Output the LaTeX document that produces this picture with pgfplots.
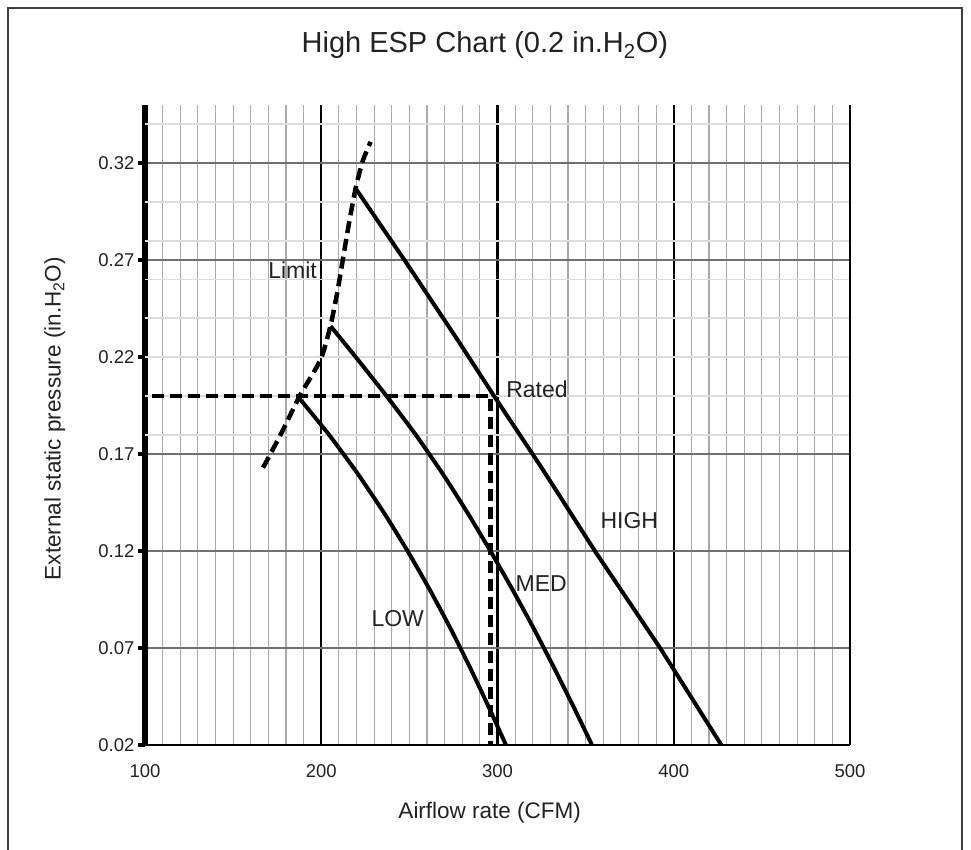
\documentclass[border=0pt]{standalone}
\usepackage{fontspec}
\setmainfont{Liberation Sans}
\usepackage{pgfplots}
\pgfplotsset{compat=1.18}
\definecolor{txt}{HTML}{222222}
\definecolor{mgrid}{HTML}{AAAAAA}
\definecolor{ygrid}{HTML}{707070}
\definecolor{lgrid}{HTML}{DCDCDC}
\begin{document}
\begin{tikzpicture}[x=1pt,y=1pt]
\useasboundingbox (-145,-105) rectangle (826,745);
\draw[black!75, line width=1.3pt] (-137,-110) -- (-137,737) -- (817,737) -- (817,-110);
\begin{axis}[
  at={(0,0)}, anchor=south west,
  scale only axis, width=705pt, height=640pt,
  xmin=100, xmax=500, ymin=0.02, ymax=0.35,
  axis x line*=bottom, axis y line*=left,
  x axis line style={-, black, line width=2pt},
  y axis line style={-, black, line width=6pt},
  xtick={100,200,300,400,500},
  xticklabels={100,200,300,400,500},
  ytick={0.02,0.07,0.12,0.17,0.22,0.27,0.32},
  yticklabels={0.02,0.07,0.12,0.17,0.22,0.27,0.32},
  minor x tick num=9,
  grid=both,
  major x grid style={black, line width=2.4pt},
  minor x grid style={mgrid, line width=1.2pt},
  major y grid style={ygrid, line width=1.8pt},
  tick align=outside,
  xtick style={draw=none},
  minor tick length=0pt,
  ytick style={black, line width=3.5pt},
  major tick length=7pt,
  tick label style={font=\fontsize{18.5}{22}\selectfont, text=txt},
  xticklabel style={yshift=-9pt},
  /pgf/number format/assume math mode=true,
  extra y ticks={0.18,0.20,0.22,0.24,0.26,0.28,0.30,0.34},
  extra y tick labels={,,,,,,,},
  extra y tick style={major tick length=0pt, ytick style={draw=none}, major y grid style={lgrid, line width=1.8pt}},
  title={High ESP Chart (0.2 in.H\textsubscript{2}O)},
  title style={at={(rel axis cs:0.482,1.084)}, anchor=center, font=\fontsize{29}{33}\selectfont, text=txt},
  xlabel={Airflow rate (CFM)},
  xlabel style={at={(rel axis cs:0.489,-0.106)}, anchor=center, font=\fontsize{22.5}{26}\selectfont, text=txt},
  ylabel={External static pressure (in.H\textsubscript{2}O)},
  ylabel style={at={(rel axis cs:-0.128,0.51)}, anchor=center, rotate=0, font=\fontsize{22.5}{26}\selectfont, text=txt},
  clip=true,
]
% Limit
\addplot[black, line width=4.5pt, dash pattern=on 12pt off 6pt, smooth, tension=0.4] coordinates {
(167.0,0.163) (177.5,0.181) (187.8,0.200) (199.6,0.2187) (205.3,0.2364) (209.3,0.2544) (212.2,0.270) (215.7,0.2888) (219.5,0.307) (223.5,0.321) (228.0,0.331)
};
% rated dashed
\addplot[black, line width=4.5pt, dash pattern=on 12pt off 6pt] coordinates {
(103.8,0.2) (296,0.2) (296,0.02)
};
% HIGH
\addplot[black, line width=4pt] coordinates {
(219.5,0.307) (248,0.269) (278,0.228) (298,0.2) (325,0.163) (356,0.119) (393,0.069) (427,0.02)
};
% MED
\addplot[black, line width=4pt, smooth, tension=0.3] coordinates {
(205.3,0.236) (219.6,0.22) (237.0,0.20) (253.6,0.18) (268.8,0.16) (282.8,0.14) (296.0,0.12) (308.6,0.10) (320.6,0.08) (332.0,0.06) (343.0,0.04) (353.6,0.02)
};
% LOW
\addplot[black, line width=4pt, smooth, tension=0.3] coordinates {
(187.8,0.1985) (204.4,0.18) (220.6,0.16) (235.4,0.14) (249.0,0.12) (261.6,0.10) (273.4,0.08) (284.4,0.06) (294.8,0.04) (304.8,0.02)
};
\draw[black, line width=3pt] (axis cs:500,0.02) -- (axis cs:500,0.35);
\node[anchor=east, font=\fontsize{23}{26}\selectfont, text=txt] at (axis cs:199.5,0.265) {Limit};
\node[anchor=west, font=\fontsize{23}{26}\selectfont, text=txt] at (axis cs:303,0.2035) {Rated};
\node[font=\fontsize{23}{26}\selectfont, text=txt] at (axis cs:374.8,0.1357) {HIGH};
\node[font=\fontsize{23}{26}\selectfont, text=txt] at (axis cs:324.8,0.1031) {MED};
\node[font=\fontsize{23}{26}\selectfont, text=txt] at (axis cs:243.4,0.085) {LOW};
\end{axis}
\end{tikzpicture}
\end{document}
